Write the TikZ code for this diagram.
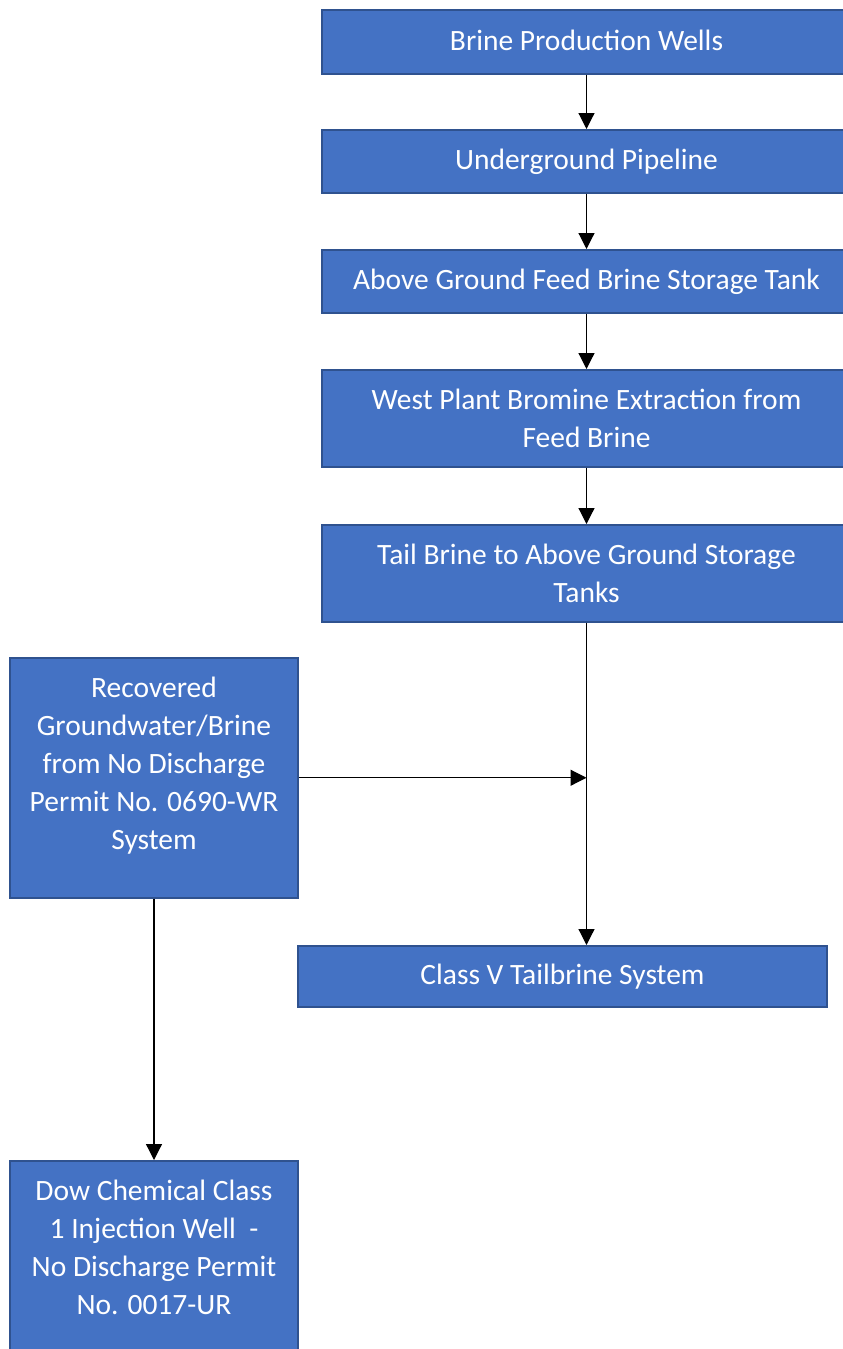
\documentclass[tikz,border=0pt]{standalone}
\usepackage{fontspec}
\setmainfont{Carlito}
\usetikzlibrary{arrows.meta}

\definecolor{boxfill}{HTML}{4472C4}
\definecolor{boxline}{HTML}{2F528F}

\tikzstyle{flowbox} = [rectangle, draw=boxline, fill=boxfill, line width=1.5pt, text=white, align=center, inner sep=0pt, font=\fontsize{29.5}{38}\selectfont, anchor=north]
\tikzstyle{wide} = [flowbox, minimum width=529pt]
\tikzstyle{narrow} = [flowbox, minimum width=288pt]
\tikzstyle{arrow} = [line width=1.2pt, -{Triangle[width=16pt,length=16pt]}]

\begin{document}
\begin{tikzpicture}[x=1pt, y=-1pt]

\useasboundingbox (0,0) rectangle (843,1349);
\clip (0,0) rectangle (843,1349);

\node (wells) [wide, text height=41pt, text depth=23pt] at (586.5,9) {Brine Production Wells};
\node (pipe) [wide, text height=40pt, text depth=23pt] at (586.5,129) {Underground Pipeline};
\node (tank) [wide, text height=40pt, text depth=23pt] at (586.5,249) {Above Ground Feed Brine Storage Tank};
\node (extract) [wide, text height=78pt, text depth=19pt] at (586.5,369) {West Plant Bromine Extraction from\\Feed Brine};
\node (tail) [wide, text height=78pt, text depth=19pt] at (586.5,524) {Tail Brine to Above Ground Storage\\Tanks};
\node (recov) [narrow, text height=192pt, text depth=48pt] at (154,657) {Recovered\\Groundwater/Brine\\from No Discharge\\Permit No. 0690-WR\\System};
\node (classv) [wide, text height=39pt, text depth=22pt] at (562.5,945) {Class V Tailbrine System};
\node (dow) [narrow, text height=154pt, text depth=86pt] at (154,1160) {Dow Chemical Class\\1 Injection Well\ \ -\\No Discharge Permit\\No. 0017-UR};

\coordinate (merge) at (tail.south |- recov.east);

\draw [arrow] (wells) -- (pipe);
\draw [arrow] (pipe) -- (tank);
\draw [arrow] (tank) -- (extract);
\draw [arrow] (extract) -- (tail);
\draw [arrow] (tail) -- (tail.south |- classv.north);
\draw [arrow] (recov) -- (merge);
\draw [arrow] (recov) -- (dow);

\end{tikzpicture}
\end{document}
